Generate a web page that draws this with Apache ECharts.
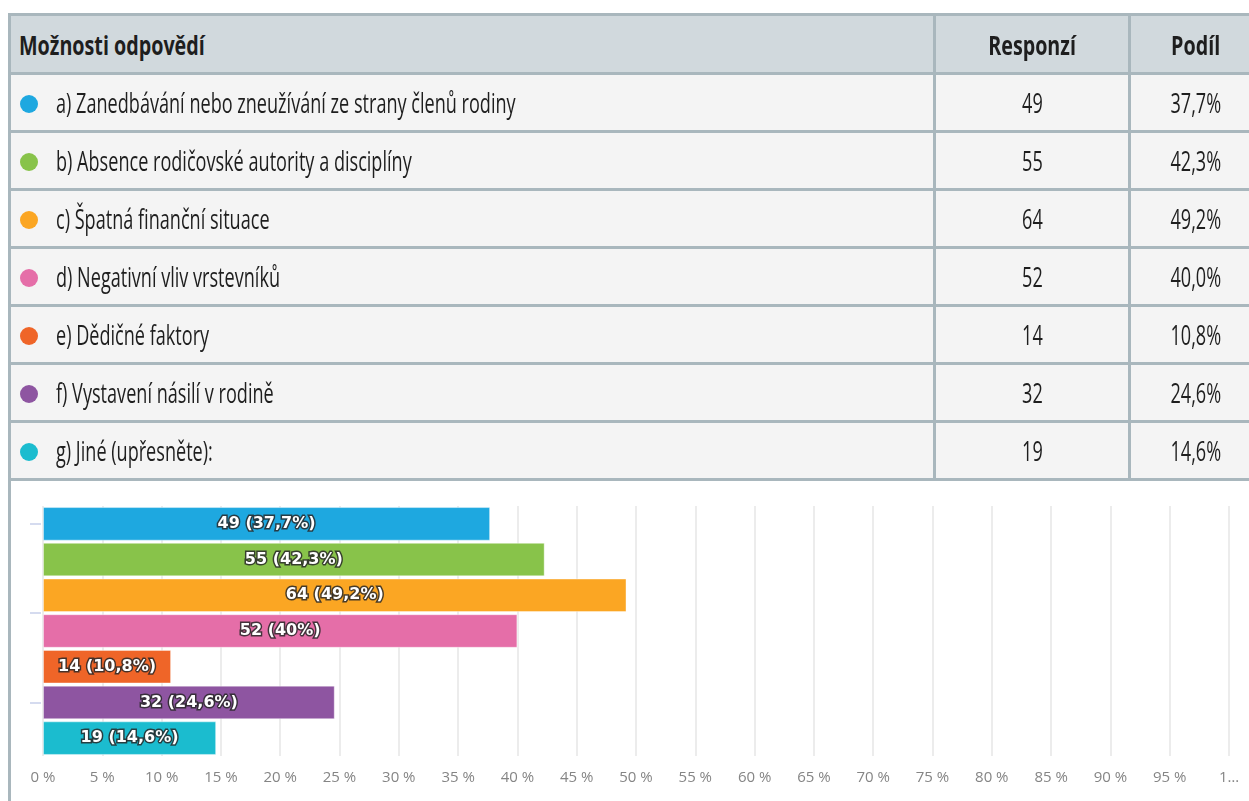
<!DOCTYPE html>
<html>
<head>
<meta charset="utf-8">
<script src="https://cdn.jsdelivr.net/npm/echarts@6/dist/echarts.min.js"></script>
<style>
  html, body { margin: 0; padding: 0; background: #fff; width: 1249px; height: 801px; overflow: hidden; }
  #frame { position: absolute; left: 8px; top: 13px; width: 1260px; height: 800px;
           border-left: 3px solid #a9b7bd; box-sizing: border-box; }
  #tbl { position: absolute; left: 8px; top: 13px; border-collapse: collapse; table-layout: fixed;
         width: 1252px; font-family: "Open Sans", sans-serif; color: #1e1e1e; }
  #tbl td, #tbl th { border: 3px solid #a9b7bd; padding: 0; overflow: hidden; white-space: nowrap; }
  #tbl th { background: #d1d9dd; height: 56px; font-weight: 700; font-size: 27px; }
  #tbl td { background: #f4f4f4; height: 55px; font-size: 27px; }
  .sx { display: inline-block; transform: scaleX(0.67); }
  th .sx { transform: scaleX(0.73); }
  .left .sx { transform-origin: left center; }
  .mid { text-align: center; }
  .mid .sx { transform-origin: center center; }
  .dot { display: inline-block; width: 18px; height: 18px; border-radius: 50%; vertical-align: middle;
         margin: 0 18px 0 9px; position: relative; top: -2px; }
  #chart { position: absolute; left: 0; top: 480px; width: 1249px; height: 321px; }
</style>
</head>
<body>
<div id="chart"></div>
<div id="frame"></div>
<table id="tbl">
  <colgroup><col style="width:925px"><col style="width:195px"><col style="width:132px"></colgroup>
  <thead><tr>
    <th class="left" style="text-align:left;padding-left:8px"><span class="sx" id="h0"></span></th>
    <th class="mid"><span class="sx" id="h1"></span></th>
    <th class="mid"><span class="sx" id="h2"></span></th>
  </tr></thead>
  <tbody id="rows"></tbody>
</table>
<script>
// Survey answers: options, response counts and share of respondents (%)
const headers = ['Možnosti odpovědí', 'Responzí', 'Podíl'];
const categories = [
  'a) Zanedbávání nebo zneužívání ze strany členů rodiny',
  'b) Absence rodičovské autority a disciplíny',
  'c) Špatná finanční situace',
  'd) Negativní vliv vrstevníků',
  'e) Dědičné faktory',
  'f) Vystavení násilí v rodině',
  'g) Jiné (upřesněte):'
];
const counts = [49, 55, 64, 52, 14, 32, 19];
const shares = [37.7, 42.3, 49.2, 40.0, 10.8, 24.6, 14.6];
const colors = ['#1ea8e0', '#88c34a', '#fba623', '#e56ea8', '#ef6528', '#8e55a1', '#1bbccf'];
const yTickValues = [0.5, 3, 5.5];

// Table
document.getElementById('h0').textContent = headers[0];
document.getElementById('h1').textContent = headers[1];
document.getElementById('h2').textContent = headers[2];
const tbody = document.getElementById('rows');
const fmtTable = v => v.toFixed(1).replace('.', ',') + '%';
categories.forEach((c, i) => {
  const tr = document.createElement('tr');
  tr.innerHTML =
    '<td class="left"><span class="dot" style="background:' + colors[i] + '"></span><span class="sx"></span></td>' +
    '<td class="mid"><span class="sx">' + counts[i] + '</span></td>' +
    '<td class="mid"><span class="sx">' + fmtTable(shares[i]) + '</span></td>';
  tr.querySelector('.left .sx').textContent = c;
  tbody.appendChild(tr);
});

// Bar chart
const chart = echarts.init(document.getElementById('chart'), null, { renderer: 'canvas' });
const fmtLabel = v => String(v).replace('.', ',');
chart.setOption({
  animation: false,
  grid: { left: 43, right: 20, top: 26, bottom: 45 },
  xAxis: {
    type: 'value', min: 0, max: 100, interval: 5,
    axisLine: { show: false }, axisTick: { show: false },
    splitLine: { lineStyle: { color: '#e6e6e6', width: 1.5 } },
    axisLabel: {
      color: '#858585', fontSize: 15, fontFamily: 'Open Sans', margin: 14,
      formatter: v => v === 100 ? '1…' : v + ' %'
    }
  },
  yAxis: [{
    type: 'category', inverse: true, data: categories,
    axisLine: { show: false }, axisTick: { show: false }, axisLabel: { show: false }
  }, {
    type: 'value', min: 0, max: 7, inverse: true, position: 'left', offset: 2,
    axisLine: { show: false }, axisLabel: { show: false }, splitLine: { show: false },
    axisTick: { show: true, length: 11, customValues: yTickValues, lineStyle: { color: '#c8d0ea', width: 1.5 } }
  }],
  series: [{
    type: 'bar', yAxisIndex: 0, barCategoryGap: '6%',
    data: shares.map((v, i) => ({
      value: v,
      itemStyle: { color: colors[i] }
    })),
    itemStyle: { borderColor: 'rgba(255,255,255,0.4)', borderWidth: 1 },
    label: {
      show: true, position: 'inside',
      formatter: p => counts[p.dataIndex] + ' (' + fmtLabel(p.value) + '%)',
      color: '#fff', fontWeight: 'bold', fontSize: 16, fontFamily: 'DejaVu Sans',
      textBorderColor: 'rgba(40,40,40,0.85)', textBorderWidth: 3
    }
  }]
});
</script>
</body>
</html>
